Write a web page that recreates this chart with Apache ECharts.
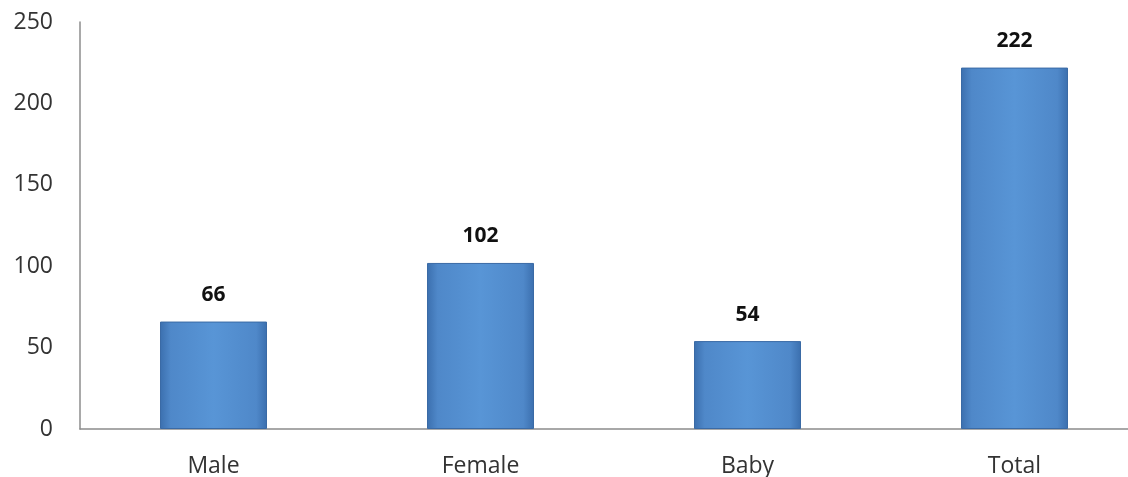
<!DOCTYPE html>
<html>
<head>
<meta charset="utf-8">
<script src="https://cdn.jsdelivr.net/npm/echarts@6/dist/echarts.min.js"></script>
<style>
  html, body { margin: 0; padding: 0; background: #fff; }
  #main { width: 1128px; height: 477px; }
</style>
</head>
<body>
<div id="main"></div>
<script>
// data
var categories = ['Male', 'Female', 'Baby', 'Total'];
var counts = [66, 102, 54, 222];
var yTicks = [0, 50, 100, 150, 200, 250];

var chart = echarts.init(document.getElementById('main'));

// bevel-ish blue like the excel bars
var barFill = new echarts.graphic.LinearGradient(0, 0, 1, 0, [
    { offset: 0, color: '#3b6fae' },
    { offset: 0.1, color: '#4f88c9' },
    { offset: 0.5, color: '#5895d6' },
    { offset: 0.9, color: '#4f88c9' },
    { offset: 1, color: '#3b6fae' }
]);

var option = {
    backgroundColor: '#ffffff',
    animation: false,
    grid: {
        left: 80,
        width: 1068,   // plot runs past the right edge in the picture
        top: 22,
        bottom: 48,
        outerBoundsMode: 'none',
        containLabel: false
    },
    xAxis: {
        type: 'category',
        data: categories,
        axisLine: { lineStyle: { color: '#8c8c8c', width: 1.5 } },
        axisTick: { show: false },
        axisLabel: {
            color: '#333',
            fontFamily: 'Open Sans',
            fontSize: 23,
            margin: 26
        }
    },
    yAxis: {
        type: 'value',
        min: yTicks[0],
        max: yTicks[yTicks.length - 1],
        interval: 50,
        axisLine: { show: true, lineStyle: { color: '#8c8c8c', width: 1.5 } },
        axisTick: { show: false },
        splitLine: { show: false },
        axisLabel: {
            color: '#333',
            fontFamily: 'Open Sans',
            fontSize: 23,
            margin: 27
        }
    },
    series: [{
        type: 'bar',
        data: counts,
        barWidth: 107,
        itemStyle: {
            color: barFill,
            borderColor: '#3a6aa5',
            borderWidth: 1
        },
        label: {
            show: true,
            position: 'top',
            distance: 16,
            color: '#111',
            fontFamily: 'Open Sans',
            fontWeight: 'bold',
            fontSize: 21
        }
    }]
};

chart.setOption(option);
</script>
</body>
</html>
